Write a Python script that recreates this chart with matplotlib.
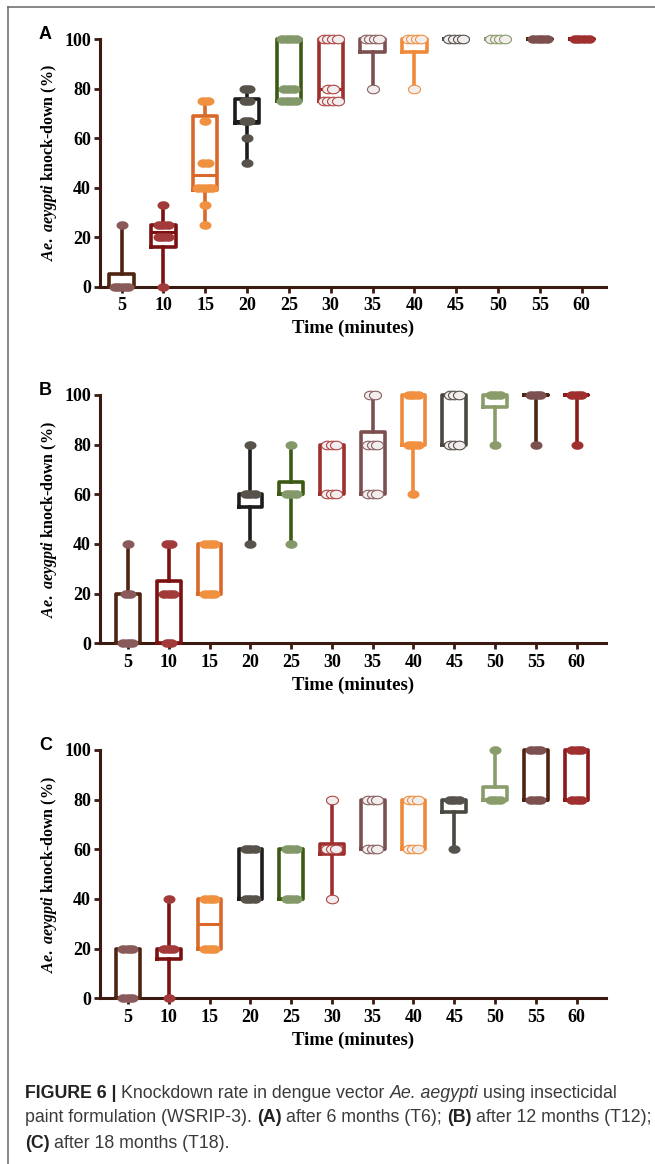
import matplotlib
matplotlib.use('Agg')
import matplotlib.pyplot as plt
from matplotlib.lines import Line2D
import numpy as np

plt.rcParams['font.family'] = 'Liberation Serif'
plt.rcParams['mathtext.fontset'] = 'custom'
plt.rcParams['mathtext.it'] = 'Liberation Serif:italic:bold'
plt.rcParams['mathtext.rm'] = 'Liberation Serif:bold'

W, H = 655, 1164

times = [5, 10, 15, 20, 25, 30, 35, 40, 45, 50, 55, 60]
box_colors = ['#4f2410', '#7b1212', '#d9692a', '#1c1c1c', '#3c5a14', '#9e2f2f',
              '#7d5050', '#f08a3a', '#4a4840', '#8a9c6a', '#4f2410', '#8b1a1a']
point_colors = ['#8a5a5a', '#a23a3a', '#f0913f', '#57534a', '#83996a', '#b04545',
                '#8a6060', '#f09040', '#55534b', '#8a9c6a', '#7d5050', '#a03030']

# panel A: after 6 months (T6)
a_min = [0, 0, 25, 50, 75, 75, 80, 80, 100, 100, 100, 100]
a_q1 = [0, 16, 39, 66, 75, 75, 95, 95, 100, 100, 100, 100]
a_med = [0, 22, 45, 67, 80, 80, 100, 100, 100, 100, 100, 100]
a_q3 = [5, 25, 69, 76, 100, 100, 100, 100, 100, 100, 100, 100]
a_max = [25, 33, 75, 80, 100, 100, 100, 100, 100, 100, 100, 100]
a_points = [
    [0, 0, 0, 0, 25],
    [0, 20, 20, 20, 25, 25, 25, 33],
    [25, 33, 40, 40, 40, 40, 50, 50, 67, 75, 75],
    [50, 60, 67, 67, 75, 75, 80, 80],
    [75, 75, 75, 75, 80, 80, 80, 100, 100, 100, 100],
    [75, 75, 75, 75, 80, 80, 100, 100, 100, 100],
    [80, 100, 100, 100, 100],
    [80, 100, 100, 100, 100],
    [100, 100, 100, 100],
    [100, 100, 100, 100],
    [100, 100, 100, 100],
    [100, 100, 100, 100],
]
a_hollow = [30, 35, 40, 45, 50]

# panel B: after 12 months (T12)
b_min = [0, 0, 20, 40, 40, 60, 60, 60, 80, 80, 80, 80]
b_q1 = [0, 0, 20, 55, 60, 60, 60, 80, 80, 95, 100, 100]
b_med = [0, 20, 20, 60, 60, 80, 80, 100, 100, 100, 100, 100]
b_q3 = [20, 25, 40, 60, 65, 80, 85, 100, 100, 100, 100, 100]
b_max = [40, 40, 40, 80, 80, 80, 100, 100, 100, 100, 100, 100]
b_points = [
    [0, 0, 0, 20, 20, 40],
    [0, 0, 20, 20, 20, 40, 40],
    [20, 20, 20, 40, 40, 40],
    [40, 60, 60, 60, 80],
    [40, 60, 60, 60, 80],
    [60, 60, 60, 80, 80, 80],
    [60, 60, 60, 80, 80, 80, 100, 100],
    [60, 80, 80, 80, 100, 100, 100],
    [80, 80, 80, 100, 100, 100],
    [80, 100, 100, 100],
    [80, 100, 100, 100],
    [80, 100, 100, 100],
]
b_hollow = [30, 35, 45]

# panel C: after 18 months (T18)
c_min = [0, 0, 20, 40, 40, 40, 60, 60, 60, 80, 80, 80]
c_q1 = [0, 16, 20, 40, 40, 58, 60, 60, 75, 80, 80, 80]
c_med = [0, 20, 30, 40, 40, 60, 60, 60, 80, 80, 80, 80]
c_q3 = [20, 20, 40, 60, 60, 62, 80, 80, 80, 85, 100, 100]
c_max = [20, 40, 40, 60, 60, 80, 80, 80, 80, 100, 100, 100]
c_points = [
    [0, 0, 0, 20, 20, 20],
    [0, 20, 20, 20, 40],
    [20, 20, 20, 40, 40, 40],
    [40, 40, 40, 60, 60, 60],
    [40, 40, 40, 60, 60, 60],
    [40, 60, 60, 60, 80],
    [60, 60, 60, 80, 80, 80],
    [60, 60, 60, 80, 80, 80],
    [60, 80, 80, 80],
    [80, 80, 80, 100],
    [80, 80, 80, 100, 100, 100],
    [80, 80, 80, 100, 100, 100],
]
c_hollow = [30, 35, 40]

spine_color = '#3b1a12'

# slightly flattened dot, like the scanned figure
theta = np.linspace(0, 2 * np.pi, 41)
dot = np.column_stack([1.4 * np.cos(theta), np.sin(theta)])


def swarm(t, vals, step=0.55):
    xs, ys = [], []
    vals = np.asarray(vals, dtype=float)
    for v in np.unique(vals):
        k = int((vals == v).sum())
        offs = (np.arange(k) - (k - 1) / 2.0) * step
        xs.extend(t + offs)
        ys.extend([v] * k)
    return xs, ys


def draw_panel(ax, mins, q1s, meds, q3s, maxs, points, hollow, xlim, letter):
    stats = []
    for t, lo, q1, med, q3, hi in zip(times, mins, q1s, meds, q3s, maxs):
        stats.append(dict(whislo=lo, q1=q1, med=med, q3=q3, whishi=hi, label=str(t)))
    art = ax.bxp(stats, positions=times, widths=2.9, showfliers=False,
                 showcaps=False, manage_ticks=False)
    for i, col in enumerate(box_colors):
        for a in [art['boxes'][i], art['whiskers'][2 * i], art['whiskers'][2 * i + 1]]:
            a.set(color=col, lw=2.6, clip_on=False, zorder=3)
        art['medians'][i].set(color=col, lw=2.2, clip_on=False, zorder=3)
    for t, vals, pc in zip(times, points, point_colors):
        xs, ys = swarm(t, vals)
        if t in hollow:
            ax.scatter(xs, ys, s=75, marker=dot, facecolors='#f3eeee', edgecolors=pc,
                       linewidths=0.8, zorder=4, clip_on=False)
        else:
            ax.scatter(xs, ys, s=75, marker=dot, color=pc, linewidths=0, zorder=4,
                       clip_on=False)

    ax.set_xlim(xlim)
    ax.set_ylim(0, 100)
    ax.set_xticks(times)
    ax.set_yticks([0, 20, 40, 60, 80, 100])
    for s in ['top', 'right']:
        ax.spines[s].set_visible(False)
    for s in ['left', 'bottom']:
        ax.spines[s].set_color(spine_color)
        ax.spines[s].set_linewidth(2.2)
    ax.tick_params(direction='out', length=4.5, width=2.0, color=spine_color,
                   labelsize=13)
    ax.tick_params(axis='x', pad=3)
    ax.tick_params(axis='y', pad=2)
    for lbl in ax.get_xticklabels() + ax.get_yticklabels():
        lbl.set_fontweight('bold')
    ax.set_xlabel('Time (minutes)', fontsize=13.5, fontweight='bold', labelpad=4)
    ax.set_ylabel(r'$\mathit{Ae.\ aeygpti}$ knock-down (%)', fontsize=11.5,
                  fontweight='bold')
    ax.yaxis.set_label_coords(-0.082, 0.5)
    ax.text(-0.108, 1.02, letter, transform=ax.transAxes, family='Liberation Sans',
            fontsize=13, fontweight='bold', ha='center', va='center')


fig = plt.figure(figsize=(W / 100, H / 100), dpi=100)

ax_a = fig.add_axes([100 / W, 1 - 286.7 / H, 506 / W, 247.4 / H])
draw_panel(ax_a, a_min, a_q1, a_med, a_q3, a_max, a_points, a_hollow, (2.42, 62.9), 'A')

ax_b = fig.add_axes([100 / W, 1 - 643.3 / H, 506 / W, 248.3 / H])
draw_panel(ax_b, b_min, b_q1, b_med, b_q3, b_max, b_points, b_hollow, (1.57, 63.6), 'B')

ax_c = fig.add_axes([100 / W, 1 - 998.3 / H, 506 / W, 248.3 / H])
draw_panel(ax_c, c_min, c_q1, c_med, c_q3, c_max, c_points, c_hollow, (1.57, 63.6), 'C')

# frame lines of the page
fig.add_artist(Line2D([7.5 / W, 7.5 / W], [0, 1 - 6.5 / H], transform=fig.transFigure,
                      color='#666666', lw=1.1))
fig.add_artist(Line2D([7.5 / W, 1], [1 - 6.5 / H, 1 - 6.5 / H], transform=fig.transFigure,
                      color='#666666', lw=1.1))

# caption
renderer = fig.canvas.get_renderer()
cap_size = 12.8
cap_font = 'Liberation Sans'


def text_width(s, **kw):
    t = fig.text(0, 0, s, fontsize=cap_size, family=cap_font, **kw)
    w = t.get_window_extent(renderer=renderer).width
    t.remove()
    return w


space = text_width('x x') - text_width('xx')


def caption_line(y, runs):
    x = 25.0
    for txt, style in runs:
        kw = {}
        col = '#3a3a3a'
        if style == 'b':
            kw['fontweight'] = 'bold'
            col = '#222222'
        elif style == 'i':
            kw['fontstyle'] = 'italic'
        t = fig.text(x / W, 1 - y / H, txt, fontsize=cap_size, family=cap_font,
                     color=col, va='center', ha='left', **kw)
        x += t.get_window_extent(renderer=renderer).width + space


caption_line(1093, [('FIGURE 6 |', 'b'), ('Knockdown rate in dengue vector', 'n'),
                    ('Ae. aegypti', 'i'), ('using insecticidal', 'n')])
caption_line(1118, [('paint formulation (WSRIP-3).', 'n'), ('(A)', 'b'),
                    ('after 6 months (T6);', 'n'), ('(B)', 'b'),
                    ('after 12 months (T12);', 'n')])
caption_line(1143, [('(C)', 'b'), ('after 18 months (T18).', 'n')])

fig.savefig('out.png', dpi=100)
